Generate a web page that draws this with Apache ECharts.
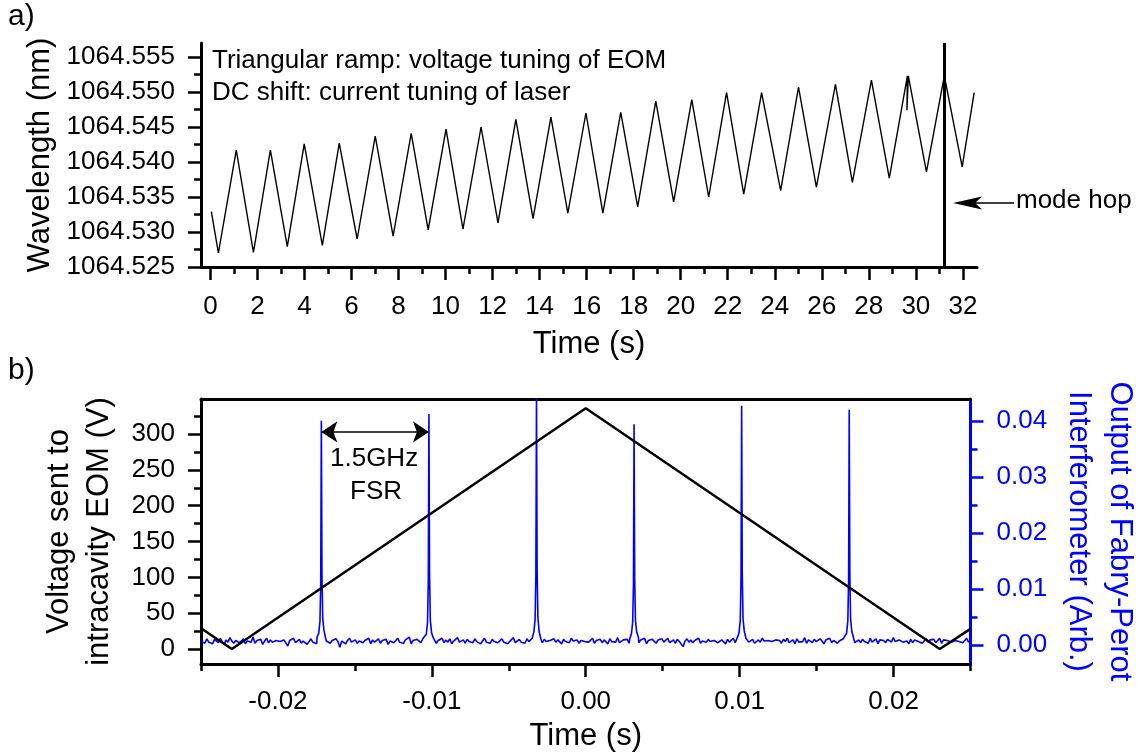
<!DOCTYPE html>
<html>
<head>
<meta charset="utf-8">
<script src="https://cdn.jsdelivr.net/npm/echarts@6/dist/echarts.min.js"></script>
<style>
html,body{margin:0;padding:0;background:#fff;}
#chart{width:1148px;height:755px;}
</style>
</head>
<body>
<div id="chart"></div>
<script>
// ---------- Panel a) data ----------
const aTime = [0.04, 0.34, 1.10, 1.83, 2.55, 3.27, 3.99, 4.76, 5.48, 6.24, 7.01, 7.77, 8.54, 9.26,
  10.02, 10.74, 11.51, 12.23, 12.99, 13.72, 14.48, 15.20, 15.97, 16.69, 17.45, 18.17, 18.94, 19.70,
  20.47, 21.19, 21.95, 22.68, 23.44, 24.25, 25.01, 25.77, 26.58, 27.30, 28.11, 28.87, 29.64, 29.62,
  29.68, 30.45, 31.21, 31.97, 32.48];
const aWavelength = [1064.5329, 1064.5270, 1064.5417, 1064.5271, 1064.5417, 1064.5279, 1064.5426,
  1064.5281, 1064.5427, 1064.5290, 1064.5437, 1064.5294, 1064.5441, 1064.5303, 1064.5447, 1064.5304,
  1064.5450, 1064.5313, 1064.5461, 1064.5319, 1064.5464, 1064.5327, 1064.5470, 1064.5327, 1064.5471,
  1064.5336, 1064.5487, 1064.5343, 1064.5489, 1064.5350, 1064.5499, 1064.5354, 1064.5499, 1064.5359,
  1064.5507, 1064.5364, 1064.5511, 1064.5371, 1064.5517, 1064.5377, 1064.5523, 1064.5474, 1064.5523,
  1064.5386, 1064.5523, 1064.5393, 1064.5499];
const modeHopTime = 31.2;
const aXLabels = [0, 2, 4, 6, 8, 10, 12, 14, 16, 18, 20, 22, 24, 26, 28, 30, 32];
const aXMinorTicks = [1, 3, 5, 7, 9, 11, 13, 15, 17, 19, 21, 23, 25, 27, 29, 31];
const aYLabels = [1064.525, 1064.530, 1064.535, 1064.540, 1064.545, 1064.550, 1064.555];
const aYMinorTicks = [1064.5275, 1064.5325, 1064.5375, 1064.5425, 1064.5475, 1064.5525];

// ---------- Panel b) data ----------
const bTriTime = [-0.025, -0.0230, 0.0, 0.0230, 0.025];
const bTriVolt = [29, 0, 336, 0, 28];

// Fabry-Perot peaks (time, output) read around each transmission peak
const fpPeakTime = [
  [-0.01746, -0.01735, -0.01727, -0.01722, -0.01718, -0.01714, -0.01709, -0.01701, -0.01690],
  [-0.01047, -0.01036, -0.01028, -0.01023, -0.01019, -0.01015, -0.01010, -0.01002, -0.00991],
  [-0.00348, -0.00337, -0.00329, -0.00324, -0.00320, -0.00316, -0.00311, -0.00303, -0.00292],
  [0.00286, 0.00297, 0.00305, 0.00310, 0.00314, 0.00318, 0.00323, 0.00331, 0.00342],
  [0.00985, 0.00996, 0.01004, 0.01009, 0.01013, 0.01017, 0.01022, 0.01030, 0.01041],
  [0.01684, 0.01695, 0.01703, 0.01708, 0.01712, 0.01716, 0.01721, 0.01729, 0.01740]
];
const fpPeakValue = [
  [0.0014, 0.0021, 0.0042, 0.0110, 0.0400, 0.0125, 0.0048, 0.0026, 0.0012],
  [0.0010, 0.0019, 0.0040, 0.0115, 0.0412, 0.0130, 0.0045, 0.0022, 0.0013],
  [0.0012, 0.0023, 0.0046, 0.0125, 0.0450, 0.0135, 0.0050, 0.0024, 0.0011],
  [0.0011, 0.0020, 0.0041, 0.0108, 0.0394, 0.0120, 0.0044, 0.0023, 0.0014],
  [0.0013, 0.0022, 0.0044, 0.0118, 0.0427, 0.0128, 0.0047, 0.0025, 0.0012],
  [0.0012, 0.0021, 0.0043, 0.0116, 0.0420, 0.0126, 0.0046, 0.0024, 0.0013]
];
// baseline noise of the interferometer trace, in units of 1e-4 (Arb.), sampled evenly over the window
const fpNoiseStart = -0.025, fpNoiseEnd = 0.025;
const fpNoise = [
  6, 9, 3, 11, 5, 8, 2, 10, 7, 4, 12, 6, 1, 9, 5, 13, 7, 3, 8, 10,
  4, 6, 11, 2, 7, 9, 5, 14, 3, 8, 6, 10, 1, 7, 12, 4, 9, 5, 2, 8,
  11, 6, 3, 9, 7, -2, 8, 5, 12, 4, 6, 10, 3, 7, 9, 1, 6, 11, 5, 8,
  2, 9, 6, 13, 4, 7, 10, 3, 8, 5, 11, 6, -4, 7, 9, 2, 8, 12, 5, 6,
  9, 3, 7, 10, 4, 8, 6, 12, 2, 9, 5, 7, 11, 3, 8, 6, 10, 1, 7, 9,
  4, 8, 12, 5, 7, 3, 9, 6, 14, 2, 8, 5, 10, 7, 4, 11, 6, -6, 9, 5,
  7, 10, 3, 8, 6, 12, 4, 9, 5, 11, 2, 7, 8, 13, 5, 6, 9, 3, 10, 6,
  8, 4, 11, 6, 9, 2, 7, 12, 5, 8, 3, 10, 6, 9, 4, 7, 11, 5, 8, 2,
  6, 9, 13, 4, 7, 10, 5, 8, 3, 11, 6, 9, 1, 7, 12, 5, 8, 4, 10, 6,
  3, 8, 6, 11, 5, 9, 7, 2, 10, 6, 8, 4, 12, 7, 5, 9, 3, 8, 11, 6,
  9, 5, 7, 12, 3, 8, 6, 10, 4, 9, 7, 2, 11, 6, 8, 5, 13, 4, 7, 9,
  6, 10, 3, 8, 5, 11, 7, 4, 9, 6, 12, 2, 8, 5, 10, 7, 3, 9, 6, 11,
  5, 8, 12, 4, 7, 9, 3, 10, 6, 8, -3, 7, 11, 5, 9, 4, 8, 6, 12, 3,
  7, 9, 5, 10, 6, 3, 8, 11, 4, 7, 9, 6, 2, 10, 5, 8, 12, 4, 7, 6,
  9, 4, 8, 11, 5, 7, 10, 3, 6, 9, 5, 12, 7, 4, 8, 10, 6, 3, 9, 7,
  8, 3, 10, 6, 12, 4, 7, 9, 2, 11, 5, 8, 6, 13, 3, 9, 7, 4, 10, 6,
  5, 11, 7, 2, 9, 6, 12, 4, 8, 10, 3, 7, 5, 11, 8, -2, 9, 6, 12, 4,
  7, 9, 4, 10, 6, 8, 3, 12, 5, 7, 11, 2, 9, 6, 8, 4, 10, 7, 5, 13,
  6, 3, 9, 11, 5, 8, 7, 2, 10, 4, 9, 12, 6, 8, 3, 7, 11, 5, 9, 6,
  10, 4, 7, 12, 3, 9, 6, 8, 11, 5, 2, 8, 10, 6, 9, 4, 7, 12, 5, 8
];
const fsrLevel = 303;   // height (V) of the 1.5 GHz FSR arrow

const bXLabels = [-0.02, -0.01, 0, 0.01, 0.02];
const bXMinorTicks = [-0.025, -0.015, -0.005, 0.005, 0.015, 0.025];
const bVLabels = [0, 50, 100, 150, 200, 250, 300];
const bVMinorTicks = [25, 75, 125, 175, 225, 275, 325];
const bFPLabels = [0, 0.01, 0.02, 0.03, 0.04];
const bFPMinorTicks = [0.005, 0.015, 0.025, 0.035];

// ---------- build series data ----------
const aData = aTime.map((t, i) => [t, aWavelength[i]]);
const bTriData = bTriTime.map((t, i) => [t, bTriVolt[i]]);
const peakCenters = fpPeakTime.map(p => p[4]);
let fpData = [];
const nN = fpNoise.length;
for (let i = 0; i < nN; i++) {
  const t = fpNoiseStart + (fpNoiseEnd - fpNoiseStart) * i / (nN - 1);
  if (peakCenters.some(c => Math.abs(t - c) <= 0.0003)) continue;
  fpData.push([t, fpNoise[i] / 10000]);
}
fpPeakTime.forEach((arr, k) => arr.forEach((t, j) => fpData.push([t, fpPeakValue[k][j]])));
fpData.sort((a, b) => a[0] - b[0]);

const FONT = '"Liberation Sans", Arial, sans-serif';
const BLUE = '#0000ff';
const tickFont = { fontSize: 26, color: '#000', fontFamily: FONT };
const nameFont = { fontSize: 31, color: '#000', fontFamily: FONT };

function minorAxis(base, values, color) {
  return Object.assign({
    type: 'value',
    axisLine: { show: false, onZero: false },
    axisTick: { show: true, customValues: values, length: 7, lineStyle: { color: color, width: 2.5 } },
    axisLabel: { show: false },
    splitLine: { show: false }
  }, base);
}
const blackLine = { show: true, onZero: false, lineStyle: { color: '#000', width: 3 } };

const chart = echarts.init(document.getElementById('chart'), null, { renderer: 'canvas' });
const option = {
  animation: false,
  backgroundColor: '#fff',
  grid: [
    { left: 201, top: 43, width: 776, height: 224 },
    { left: 201, top: 399, width: 770, height: 265 }
  ],
  xAxis: [
    { gridIndex: 0, type: 'value', position: 'bottom', min: -0.4, max: 32.6,
      axisLine: blackLine,
      axisTick: { show: true, customValues: aXLabels, length: 13, lineStyle: { color: '#000', width: 2.5 } },
      axisLabel: Object.assign({ customValues: aXLabels, margin: 27 }, tickFont),
      splitLine: { show: false },
      name: 'Time (s)', nameLocation: 'middle', nameGap: 62, nameTextStyle: nameFont },
    minorAxis({ gridIndex: 0, position: 'bottom', min: -0.4, max: 32.6 }, aXMinorTicks, '#000'),
    { gridIndex: 1, type: 'value', position: 'bottom', min: -0.025, max: 0.025,
      axisLine: blackLine,
      axisTick: { show: true, customValues: bXLabels, length: 13, lineStyle: { color: '#000', width: 2.5 } },
      axisLabel: Object.assign({ customValues: bXLabels, margin: 25, formatter: v => v.toFixed(2) }, tickFont),
      splitLine: { show: false },
      name: 'Time (s)', nameLocation: 'middle', nameGap: 57, nameTextStyle: nameFont },
    minorAxis({ gridIndex: 1, position: 'bottom', min: -0.025, max: 0.025 }, bXMinorTicks, '#000'),
    { gridIndex: 1, type: 'value', position: 'top', min: -0.025, max: 0.025,
      axisLine: blackLine,
      axisTick: { show: false }, axisLabel: { show: false }, splitLine: { show: false } }
  ],
  yAxis: [
    { gridIndex: 0, type: 'value', position: 'left', min: 1064.525, max: 1064.557,
      axisLine: blackLine,
      axisTick: { show: true, customValues: aYLabels, length: 13, lineStyle: { color: '#000', width: 2.5 } },
      axisLabel: Object.assign({ customValues: aYLabels, margin: 26, formatter: v => v.toFixed(3) }, tickFont),
      splitLine: { show: false },
      name: 'Wavelength (nm)', nameLocation: 'middle', nameRotate: 90, nameGap: 140, nameTextStyle: nameFont },
    minorAxis({ gridIndex: 0, position: 'left', min: 1064.525, max: 1064.557 }, aYMinorTicks, '#000'),
    { gridIndex: 1, type: 'value', position: 'left', min: -21, max: 349,
      axisLine: blackLine,
      axisTick: { show: true, customValues: bVLabels, length: 13, lineStyle: { color: '#000', width: 2.5 } },
      axisLabel: Object.assign({ customValues: bVLabels, margin: 26 }, tickFont),
      splitLine: { show: false },
      name: 'Voltage sent to\nintracavity EOM (V)', nameLocation: 'middle', nameRotate: 90, nameGap: 82,
      nameTextStyle: Object.assign({ lineHeight: 40 }, nameFont) },
    minorAxis({ gridIndex: 1, position: 'left', min: -21, max: 349 }, bVMinorTicks, '#000'),
    { gridIndex: 1, type: 'value', position: 'right', min: -0.0034, max: 0.0439,
      axisLine: { show: true, onZero: false, lineStyle: { color: BLUE, width: 3 } },
      axisTick: { show: true, customValues: bFPLabels, length: 13, lineStyle: { color: BLUE, width: 2.5 } },
      axisLabel: { customValues: bFPLabels, margin: 26, formatter: v => v.toFixed(2), fontSize: 26, color: BLUE, fontFamily: FONT },
      splitLine: { show: false },
      name: 'Output of Fabry-Perot\nInterferometer (Arb.)', nameLocation: 'middle', nameRotate: -90, nameGap: 86,
      nameTextStyle: { fontSize: 31, color: BLUE, fontFamily: FONT, lineHeight: 41 } },
    minorAxis({ gridIndex: 1, position: 'right', min: -0.0034, max: 0.0439 }, bFPMinorTicks, BLUE)
  ],
  series: [
    { type: 'line', xAxisIndex: 0, yAxisIndex: 0, data: aData, showSymbol: false, symbol: 'none',
      lineStyle: { color: '#000', width: 1.4 },
      markLine: { silent: true, symbol: ['none', 'none'], label: { show: false },
        lineStyle: { color: '#000', width: 3, type: 'solid' },
        data: [{ xAxis: modeHopTime }] } },
    { type: 'line', xAxisIndex: 2, yAxisIndex: 4, data: fpData, showSymbol: false, symbol: 'none',
      lineStyle: { color: BLUE, width: 1.6 } },
    { type: 'line', xAxisIndex: 2, yAxisIndex: 2, data: bTriData, showSymbol: false, symbol: 'none',
      lineStyle: { color: '#000', width: 2.5 },
      markLine: { silent: true, symbol: ['arrow', 'arrow'], symbolSize: 16, label: { show: false },
        lineStyle: { color: '#000', width: 1.5, type: 'solid' },
        data: [[{ coord: [peakCenters[0], fsrLevel] }, { coord: [peakCenters[1], fsrLevel] }]] } }
  ],
  graphic: [
    { type: 'text', left: 8, top: 2, style: { text: 'a)', font: '30px ' + FONT, fill: '#000' } },
    { type: 'text', left: 8, top: 356, style: { text: 'b)', font: '30px ' + FONT, fill: '#000' } },
    { type: 'text', left: 212, top: 48, style: { text: 'Triangular ramp: voltage tuning of EOM', font: '26px ' + FONT, fill: '#000' } },
    { type: 'text', left: 212, top: 80, style: { text: 'DC shift: current tuning of laser', font: '26px ' + FONT, fill: '#000' } },
    { type: 'line', shape: { x1: 970, y1: 203, x2: 1014, y2: 203 }, style: { stroke: '#000', lineWidth: 1.5 } },
    { type: 'polygon', shape: { points: [[953, 203], [982, 196.5], [975, 203], [982, 209.5]] }, style: { fill: '#000' } },
    { type: 'text', left: 1016, top: 188, style: { text: 'mode hop', font: '26px ' + FONT, fill: '#000' } },
    { type: 'text', left: 330, top: 446, style: { text: '1.5GHz', font: '26px ' + FONT, fill: '#000' } },
    { type: 'text', left: 350, top: 479, style: { text: 'FSR', font: '26px ' + FONT, fill: '#000' } }
  ]
};
chart.setOption(option);
</script>
</body>
</html>
